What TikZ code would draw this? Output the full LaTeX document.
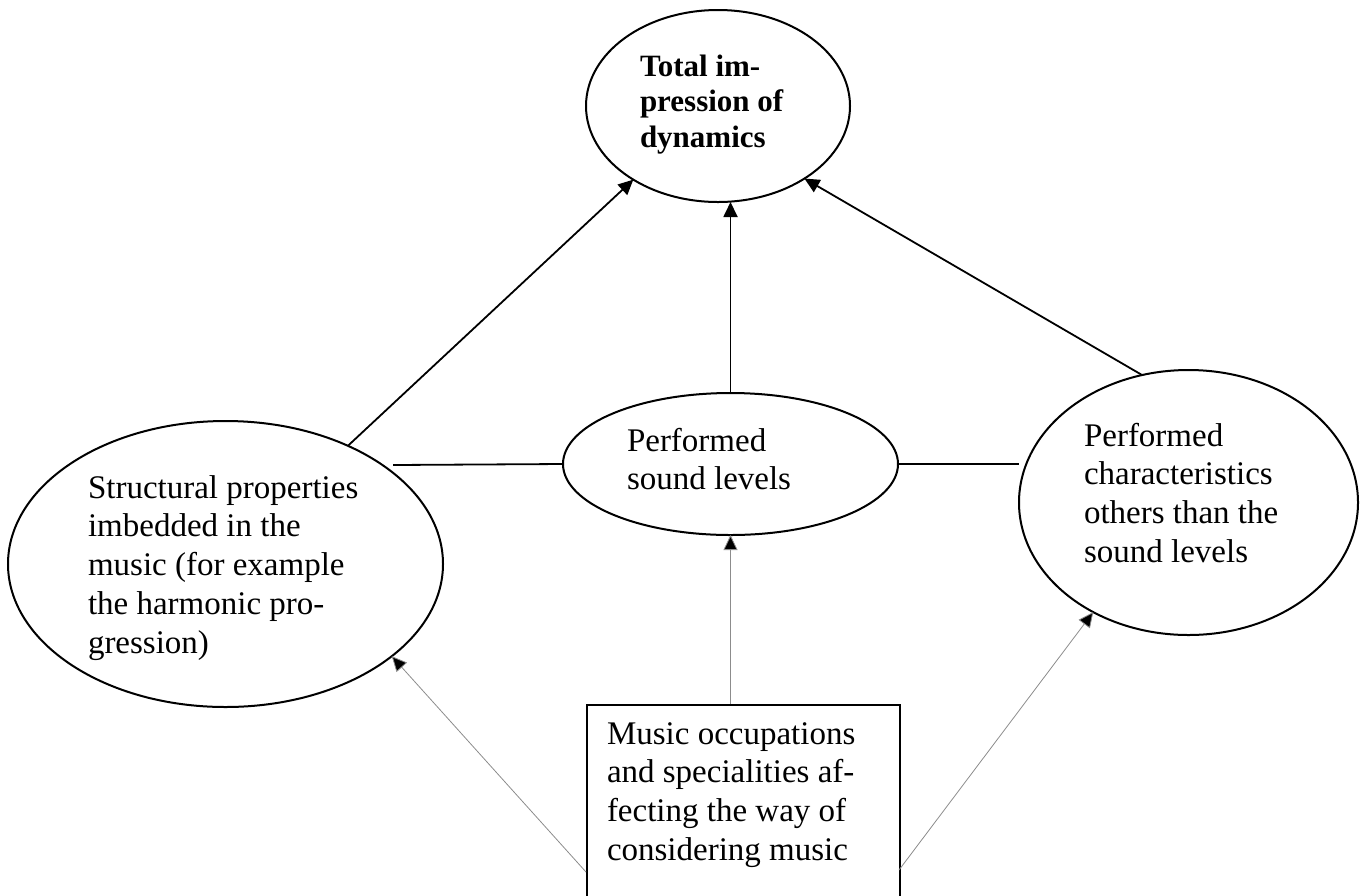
\documentclass[tikz,border=0pt]{standalone}
\usepackage{fontspec}
\setmainfont{Liberation Serif}
\usetikzlibrary{shapes.geometric,arrows.meta}
\newcommand\mylines[1]{\parbox[t]{500pt}{\raggedright #1}}
\begin{document}
\begin{tikzpicture}[x=1pt,y=-1pt,
  ell/.style={ellipse,draw,line width=2pt,inner sep=0pt,outer sep=0pt},
  txt/.style={anchor=base west,inner sep=0pt,outer sep=0pt,font=\fontsize{33}{38.8}\selectfont},
  conn/.style={line width=1.8pt},
  arr/.style={conn,-{Triangle[length=15pt,width=14pt]}},
  faint/.style={line width=0.8pt,draw=black!45,-{Triangle[length=15pt,width=14pt,fill=black]}}
]
\useasboundingbox (0,0) rectangle (1364,895);
\clip (0,0) rectangle (1364,895);
% ellipses
\node[ell,minimum width=264pt,minimum height=192pt] (T) at (718,106) {};
\node[ell,minimum width=435pt,minimum height=286pt] (L) at (225.5,564) {};
\node[ell,minimum width=335pt,minimum height=142pt] (C) at (730.5,464) {};
\node[ell,minimum width=339pt,minimum height=265pt] (R) at (1188.5,502.5) {};
\node[draw,line width=2.4pt,minimum width=313pt,minimum height=260pt,inner sep=0pt,anchor=north west] (B) at (586,704) {};
% texts
\node[txt,font=\bfseries\fontsize{31}{35.5}\selectfont] (tT) at (640,76) {\mylines{Total im-\\pression of\\dynamics}};
\node[txt] (tL) at (88,498) {\mylines{Structural properties\\imbedded in the\\music (for example\\the harmonic pro-\\gression)}};
\node[txt] (tC) at (627,451) {\mylines{Performed\\sound levels}};
\node[txt] (tR) at (1084,446) {\mylines{Performed\\characteristics\\others than the\\sound levels}};
\node[txt] (tB) at (607,744) {\mylines{Music occupations\\and specialities af-\\fecting the way of\\considering music}};
% solid connectors
\draw[arr] (L.44) -- (T.221);
\draw[arr] (C.north) -- (C.north |- T.south);
\draw[arr] (R.110) -- (T.-40);
\coordinate (hl) at (393,465);
\coordinate (hr) at (1019,464);
\draw[conn] (hl) -- (C.west);
\draw[conn] (C.east) -- (hr);
% faint connectors
\coordinate (bl) at (586,872);
\coordinate (br) at (899,870);
\draw[faint] (B.north -| C.south) -- (C.south);
\draw[faint] (bl) -- (L.-29);
\draw[faint] (br) -- (R.229);
\end{tikzpicture}
\end{document}
